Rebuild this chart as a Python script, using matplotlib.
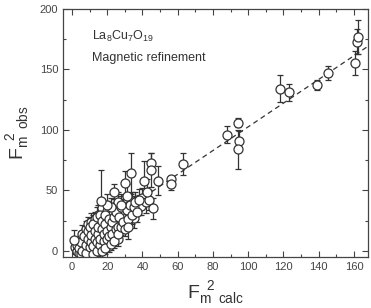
import matplotlib
matplotlib.use("Agg")
import matplotlib.pyplot as plt
from matplotlib.ticker import MultipleLocator

plt.rcParams['font.family'] = ['Liberation Sans', 'DejaVu Sans']
plt.rcParams['mathtext.fontset'] = 'custom'
plt.rcParams['mathtext.rm'] = 'Liberation Sans'
plt.rcParams['mathtext.it'] = 'Liberation Sans'

# F^2 calc, F^2 obs, error
x_calc = [2, 3, 4, 4, 5, 6, 6, 7, 7, 8, 8, 9, 9, 10, 10, 11, 11, 12, 12, 13, 13,
          14, 14, 15, 15, 15, 16, 16, 17, 17, 18, 18, 19, 19, 20, 20, 21, 21, 22,
          22, 23, 23, 24, 24, 25, 25, 26, 26, 27, 27, 28, 28, 29, 30, 30, 31, 32,
          33, 34, 35, 36, 38, 39, 40, 42, 44,
          3, 4, 5, 5, 6, 7, 8, 8, 9, 9, 10, 10, 11, 11, 12, 12, 12, 13, 13, 14,
          14, 14, 15, 15, 16, 16, 16, 17, 17, 17, 18, 18, 19, 19, 19, 20, 20, 21,
          21, 22, 22, 23, 23, 24, 24, 25, 25, 26, 26, 27, 28, 28, 29, 30, 31, 32,
          33, 34, 35, 36, 37, 38, 26, 22, 20, 28,
          1, 16.5, 24, 30, 33.5, 31, 41, 42.5, 44.6, 44.6, 46, 49, 63, 56.5, 56.5,
          32, 88, 94, 95, 94, 118, 123, 139, 145.5, 160.5, 162, 162.5]
y_obs = [3, 0, 6, -2, 10, 4, 14, 2, 9, 12, 18, 5, 22, 8, 15, 0, 24, 11, 17, 5, 26,
         13, 20, 2, 9, 30, 16, 24, 35, 12, 20, 28, 8, 15, 22, 33, 4, 18, 26,
         12, 30, 20, 15, 36, 24, 28, 10, 32, 22, 18, 30, 26, 35, 24, 32, 28, 37,
         30, 40, 27, 33, 38, 37, 44, 40, 42,
         5, 2, -3, 7, 0, 12, -2, 5, 10, 16, 3, 20, 7, 13, -3, 4, 22, 10, 16, 0,
         7, 28, 14, 20, 5, 10, 30, 0, 18, 25, 8, 14, 2, 22, 30, 10, 16, 12,
         26, 6, 20, 14, 24, 8, 28, 18, 32, 20, 14, 28, 20, 36, 24, 18, 34, 26,
         38, 30, 36, 40, 32, 42, 40, 36, 38, 38,
         9, 41.5, 49, 56, 64, 45, 58, 49, 73, 67, 35, 58, 72, 59, 55,
         20, 96, 106, 91, 84, 134, 131, 137, 147, 155, 173, 177]
y_err = [6, 5, 5, 4, 6, 5, 7, 5, 5, 6, 7, 5, 6, 6, 5, 6, 7, 6, 5, 6, 6,
         6, 7, 6, 5, 8, 6, 7, 8, 6, 7, 6, 6, 6, 7, 8, 5, 6, 7,
         6, 6, 7, 6, 7, 7, 6, 6, 8, 7, 6, 7, 6, 8, 7, 7, 6, 9,
         8, 9, 8, 7, 8, 7, 8, 9, 8,
         5, 4, 4, 6, 5, 6, 4, 5, 6, 7, 5, 7, 5, 6, 4, 5, 8, 6, 6, 5,
         5, 8, 6, 7, 5, 6, 8, 5, 7, 8, 6, 6, 5, 7, 8, 6, 7, 6,
         8, 5, 7, 6, 7, 6, 8, 7, 8, 7, 6, 8, 7, 9, 7, 6, 9, 8,
         9, 8, 9, 9, 8, 9, 9, 8, 9, 9,
         8, 25, 6, 10, 17, 10, 16, 10, 8, 14, 9, 12, 9, 3, 5,
         10, 7, 4, 8, 16, 11, 7, 4, 6, 10, 10, 14]

fit_x = [0, 168]
fit_slope = 0.98
fit_icpt = 4.5

fig = plt.figure(figsize=(3.71, 3.08), dpi=100)
ax = fig.add_axes([0.170, 0.166, 0.822, 0.805])

ax.plot(fit_x, [fit_icpt + fit_slope * v for v in fit_x], ls=(0, (4, 3)),
        color='#333333', lw=0.9, zorder=1)
ax.errorbar(x_calc, y_obs, yerr=y_err, fmt='o', mfc='white', mec='#333333',
            mew=0.9, ms=6.5, ecolor='#333333', elinewidth=0.9, capsize=2.5,
            capthick=0.9, zorder=2)

ax.set_xlim(-5, 168)
ax.set_ylim(-5, 200)
ax.xaxis.set_major_locator(MultipleLocator(20))
ax.xaxis.set_minor_locator(MultipleLocator(10))
ax.yaxis.set_major_locator(MultipleLocator(50))
ax.yaxis.set_minor_locator(MultipleLocator(25))
ax.tick_params(which='both', direction='in', top=True, right=True,
               labelsize=8, labelcolor='#444444', color='#444444')
ax.tick_params(which='major', length=4, width=0.8)
ax.tick_params(which='minor', length=2.5, width=0.8)
for s in ax.spines.values():
    s.set_color('#444444')
    s.set_linewidth(0.9)

ax.text(0.095, 0.875, r'La$_8$Cu$_7$O$_{19}$', transform=ax.transAxes,
        fontsize=9, color='#333333')
ax.text(0.095, 0.79, 'Magnetic refinement', transform=ax.transAxes,
        fontsize=9, color='#333333')

ax.set_xlabel(r'F$_{\mathrm{m\ \ calc}}^{\ \ 2}$', fontsize=14, color='#333333',
              labelpad=5)
ax.set_ylabel(r'F$_{\mathrm{m\ \ obs}}^{\ \ 2}$', fontsize=14, color='#333333',
              labelpad=6)

fig.savefig('out.png', dpi=100)
